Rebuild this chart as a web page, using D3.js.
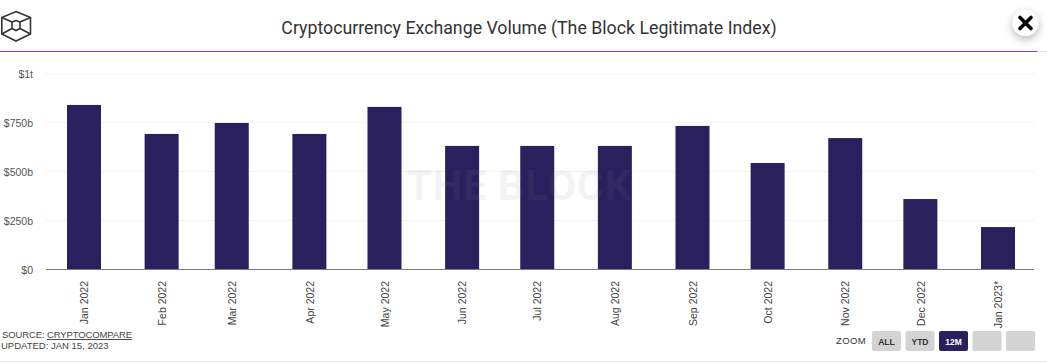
<!DOCTYPE html>
<html>
<head>
<meta charset="utf-8">
<script src="https://cdn.jsdelivr.net/npm/d3@7"></script>
<style>
  html, body { margin: 0; padding: 0; background: #fff; overflow: hidden; }
  svg { display: block; }
  text { font-family: "Liberation Sans", Arial, sans-serif; }
  .y-axis text { font-size: 10.5px; fill: #555; }
  .x-axis text { font-size: 10.5px; fill: #444; }
</style>
</head>
<body>
<svg id="chart" width="1047" height="363"></svg>
<script>
const months = ["2022-01-01", "2022-02-01", "2022-03-01", "2022-04-01", "2022-05-01", "2022-06-01", "2022-07-01",
  "2022-08-01", "2022-09-01", "2022-10-01", "2022-11-01", "2022-12-01", "2023-01-01"];
const monthLabels = ["Jan 2022", "Feb 2022", "Mar 2022", "Apr 2022", "May 2022", "Jun 2022", "Jul 2022",
  "Aug 2022", "Sep 2022", "Oct 2022", "Nov 2022", "Dec 2022", "Jan 2023*"];
const volumes = [837, 689, 745, 689, 827, 628, 628, 628, 730, 541, 668, 357, 214]; // billions
const yTicks = [0, 250, 500, 750, 1000];
const yTickLabels = ["$0", "$250b", "$500b", "$750b", "$1t"];
const zoomButtons = ["ALL", "YTD", "12M", "", ""];

const svg = d3.select("#chart");
const dates = months.map((m) => new Date(m + "T00:00:00Z"));

const fnXScale = d3.scaleUtc().domain([dates[0], dates[12]]).range([84, 998]);
const fnYScale = d3.scaleLinear().domain([0, 1000]).range([269, 73]);
const barWidth = 34;

// header
const defs = svg.append("defs");
const shadow = defs.append("filter").attr("id", "shadow")
  .attr("x", "-50%").attr("y", "-50%").attr("width", "200%").attr("height", "200%");
shadow.append("feDropShadow").attr("dx", 0).attr("dy", 3).attr("stdDeviation", 4)
  .attr("flood-color", "#000").attr("flood-opacity", 0.3);

const logo = svg.append("g").attr("fill", "none").attr("stroke", "#333").attr("stroke-width", 1.6);
logo.append("path").attr("d", "M16 11.5L30.5 17.5V34L16 41L1.8 34V17.5Z");
logo.append("path").attr("d", "M12 22L16 20.5L20 22V28.5L16 30.5L12 28.5Z");
logo.append("path").attr("d", "M1.8 17.5L12 22M30.5 17.5L20 22M1.8 34L12 28.5M30.5 34L20 28.5");

svg.append("text")
  .attr("x", 529).attr("y", 33.5)
  .attr("text-anchor", "middle")
  .style("font-family", "Roboto, sans-serif")
  .style("font-size", "17.75px")
  .style("fill", "#333")
  .text("Cryptocurrency Exchange Volume (The Block Legitimate Index)");

svg.append("line").attr("x1", 0).attr("x2", 1037).attr("y1", 51.5).attr("y2", 51.5)
  .attr("stroke", "#9b30d0").attr("stroke-width", 1);
svg.append("line").attr("x1", 1037).attr("x2", 1047).attr("y1", 51.5).attr("y2", 51.5)
  .attr("stroke", "#e6d8ee").attr("stroke-width", 1);

svg.append("circle").attr("cx", 1025.5).attr("cy", 23).attr("r", 13)
  .attr("fill", "#fff").attr("filter", "url(#shadow)");
svg.append("path").attr("d", "M1020 17.5L1031 28.5M1031 17.5L1020 28.5")
  .attr("stroke", "#000").attr("stroke-width", 3.6).attr("stroke-linecap", "round");

// gridlines
svg.append("g").selectAll("line")
  .data(yTicks.filter((t) => t > 0))
  .enter().append("line")
  .attr("x1", 46).attr("x2", 1034)
  .attr("y1", (t) => fnYScale(t) + 0.5).attr("y2", (t) => fnYScale(t) + 0.5)
  .attr("stroke", "#f2f2f2");

// bars
svg.append("g").selectAll("rect")
  .data(volumes)
  .enter().append("rect")
  .attr("x", (v, i) => fnXScale(dates[i]) - barWidth / 2)
  .attr("y", (v) => fnYScale(v))
  .attr("width", barWidth)
  .attr("height", (v) => fnYScale(0) - fnYScale(v))
  .attr("fill", "#2a205e");

// watermark sits over the bars
svg.append("text")
  .attr("x", 519).attr("y", 200)
  .attr("text-anchor", "middle")
  .style("font-family", "Roboto, sans-serif")
  .style("font-size", "42px")
  .style("font-weight", "700")
  .style("letter-spacing", "0.5px")
  .style("fill", "#888")
  .style("fill-opacity", 0.09)
  .text("THE BLOCK");

//axis
const yAxis = d3.axisLeft(fnYScale)
  .tickValues(yTicks)
  .tickSize(0)
  .tickPadding(0)
  .tickFormat((t, i) => yTickLabels[i]);
svg.append("g").attr("class", "y-axis").attr("transform", "translate(33, 1)").call(yAxis)
  .call((g) => g.select(".domain").remove());

const xAxis = d3.axisBottom(fnXScale)
  .tickValues(dates)
  .tickSize(0)
  .tickFormat((d, i) => monthLabels[i]);
const xAxisG = svg.append("g").attr("class", "x-axis").attr("transform", "translate(0, 269)").call(xAxis);
xAxisG.select(".domain").remove();
xAxisG.selectAll("text")
  .attr("transform", "rotate(-90)")
  .attr("x", -12).attr("y", 0).attr("dy", "0.35em")
  .attr("text-anchor", "end");

svg.append("line").attr("x1", 46).attr("x2", 1034).attr("y1", 269.5).attr("y2", 269.5)
  .attr("stroke", "#7c7c7c").attr("stroke-width", 1);

// footer
const source = svg.append("text").attr("x", 2).attr("y", 338)
  .style("font-size", "9.5px").style("letter-spacing", "-0.12px").style("fill", "#444");
source.append("tspan").text("SOURCE: ");
source.append("tspan").style("text-decoration", "underline").text("CRYPTOCOMPARE");
svg.append("text").attr("x", 1).attr("y", 349)
  .style("font-size", "9.5px").style("fill", "#444")
  .text("UPDATED: JAN 15, 2023");

svg.append("line").attr("x1", 0).attr("x2", 1047).attr("y1", 361.5).attr("y2", 361.5)
  .attr("stroke", "#e8e8e8");

// zoom buttons
svg.append("text").attr("x", 836).attr("y", 344)
  .style("font-size", "9.5px").style("letter-spacing", "0.4px").style("fill", "#333")
  .text("ZOOM");

const fnButtonX = d3.scaleLinear().domain([0, 4]).range([872, 1006]);
const buttons = svg.append("g").selectAll("g")
  .data(zoomButtons)
  .enter().append("g")
  .attr("transform", (d, i) => `translate(${fnButtonX(i)}, 331)`);
buttons.append("rect")
  .attr("width", 29).attr("height", 20).attr("rx", 2)
  .attr("fill", (d) => (d === "12M" ? "#2a205e" : "#d3d3d3"));
buttons.append("text")
  .attr("x", 14.5).attr("y", 14)
  .attr("text-anchor", "middle")
  .style("font-size", "8.5px")
  .style("font-weight", "700")
  .style("fill", (d) => (d === "12M" ? "#fff" : "#333"))
  .text((d) => d);
</script>
</body>
</html>
